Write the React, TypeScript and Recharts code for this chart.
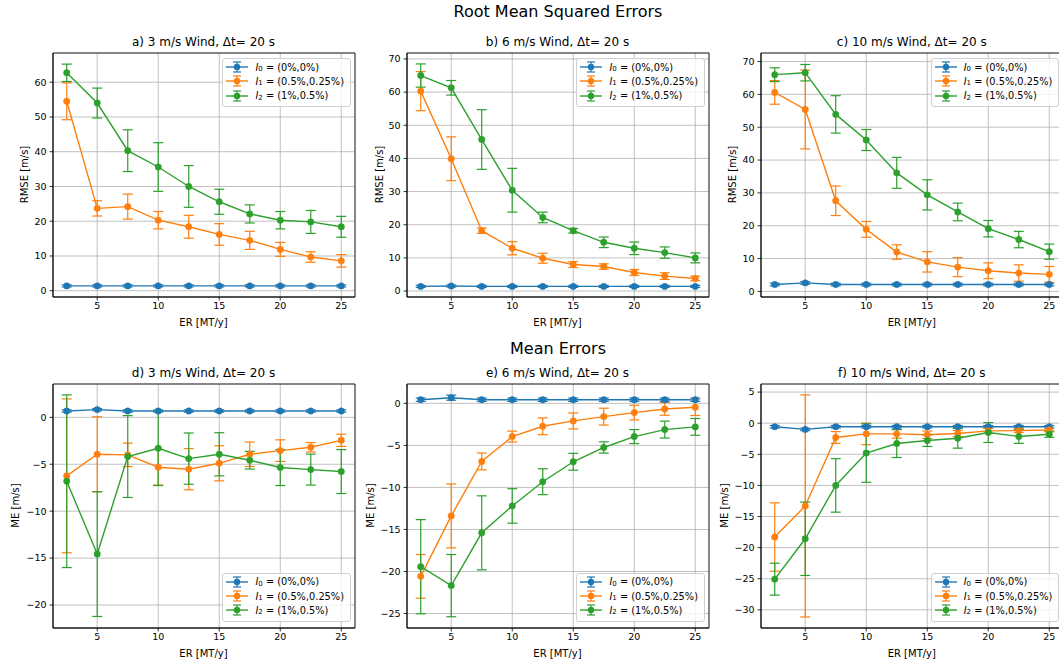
import { LineChart, Line, XAxis, YAxis, CartesianGrid, ErrorBar, ReferenceArea } from 'recharts';

const FONT = '"DejaVu Sans", sans-serif';
const BLUE = '#1f77b4';
const ORANGE = '#ff7f0e';
const GREEN = '#2ca02c';

// emission rate, shared x values
const er = [2.5, 5, 7.5, 10, 12.5, 15, 17.5, 20, 22.5, 25];
const xTicks = [5, 10, 15, 20, 25];
const xDomain = [1.375, 26.125];

// a) RMSE, 3 m/s
const aI0 = [1.4, 1.4, 1.4, 1.4, 1.4, 1.4, 1.4, 1.4, 1.4, 1.4];
const aI0Err = [0.3, 0.3, 0.3, 0.3, 0.3, 0.3, 0.3, 0.3, 0.3, 0.3];
const aI1 = [54.5, 23.7, 24.2, 20.3, 18.4, 16.2, 14.5, 11.9, 9.7, 8.6];
const aI1Err = [5.3, 2.2, 3.6, 2.5, 3.3, 3.1, 2.6, 2.0, 1.5, 1.8];
const aI2 = [62.7, 54.0, 40.3, 35.6, 30.0, 25.6, 22.1, 20.3, 19.8, 18.4];
const aI2Err = [2.5, 4.3, 6.0, 7.0, 6.0, 3.6, 2.6, 2.5, 3.3, 3.0];

// b) RMSE, 6 m/s
const bI0 = [1.4, 1.5, 1.4, 1.4, 1.4, 1.4, 1.4, 1.4, 1.4, 1.4];
const bI0Err = [0.3, 0.3, 0.3, 0.3, 0.3, 0.3, 0.3, 0.3, 0.3, 0.3];
const bI1 = [60.3, 39.9, 18.2, 12.9, 9.9, 8.0, 7.4, 5.6, 4.5, 3.8];
const bI1Err = [5.9, 6.6, 0.8, 2.0, 1.5, 0.9, 0.8, 0.9, 1.0, 0.7];
const bI2 = [65.0, 61.3, 45.7, 30.4, 22.2, 18.2, 14.7, 12.9, 11.6, 10.0];
const bI2Err = [3.5, 2.2, 9.0, 6.6, 1.6, 0.7, 1.6, 1.9, 1.7, 1.5];

// c) RMSE, 10 m/s
const cI0 = [2.1, 2.6, 2.1, 2.1, 2.1, 2.1, 2.1, 2.1, 2.1, 2.1];
const cI0Err = [0.4, 0.4, 0.4, 0.4, 0.4, 0.4, 0.4, 0.4, 0.4, 0.4];
const cI1 = [60.6, 55.4, 27.6, 18.9, 12.0, 9.0, 7.4, 6.3, 5.6, 5.2];
const cI1Err = [3.6, 12.0, 4.5, 2.4, 2.2, 3.1, 2.9, 2.4, 2.5, 2.4];
const cI2 = [66.0, 66.6, 53.9, 46.1, 36.1, 29.4, 24.2, 19.1, 15.8, 12.1];
const cI2Err = [2.1, 2.5, 5.7, 3.2, 4.7, 4.6, 2.7, 2.5, 2.5, 2.3];

// d) ME, 3 m/s
const dI0 = [0.67, 0.82, 0.67, 0.67, 0.67, 0.67, 0.67, 0.67, 0.67, 0.67];
const dI0Err = [0.12, 0.12, 0.12, 0.12, 0.12, 0.12, 0.12, 0.12, 0.12, 0.12];
const dI1 = [-6.24, -3.94, -4.0, -5.32, -5.53, -4.9, -3.94, -3.55, -3.19, -2.45];
const dI1Err = [8.2, 4.0, 1.25, 1.9, 2.2, 1.87, 1.3, 1.15, 0.5, 0.65];
const dI2 = [-6.81, -14.57, -4.18, -3.3, -4.4, -3.94, -4.57, -5.35, -5.57, -5.78];
const dI2Err = [9.2, 6.65, 4.36, 3.97, 2.73, 2.3, 0.94, 1.92, 1.65, 2.34];

// e) ME, 6 m/s
const eI0 = [0.43, 0.67, 0.43, 0.43, 0.43, 0.43, 0.43, 0.43, 0.43, 0.43];
const eI0Err = [0.2, 0.3, 0.2, 0.2, 0.2, 0.2, 0.2, 0.2, 0.2, 0.2];
const eI1 = [-20.58, -13.39, -6.91, -3.95, -2.73, -2.09, -1.58, -1.1, -0.67, -0.47];
const eI1Err = [2.6, 3.8, 1.0, 0.65, 1.0, 0.95, 1.0, 0.87, 0.75, 0.98];
const eI2 = [-19.43, -21.68, -15.4, -12.2, -9.32, -6.95, -5.25, -3.95, -3.12, -2.8];
const eI2Err = [5.6, 3.7, 4.4, 2.05, 1.54, 1.0, 0.67, 0.83, 1.0, 1.0];

// f) ME, 10 m/s
const fI0 = [-0.57, -1.0, -0.57, -0.57, -0.57, -0.57, -0.57, -0.57, -0.57, -0.57];
const fI0Err = [0.2, 0.2, 0.2, 0.2, 0.2, 0.2, 0.2, 0.2, 0.2, 0.2];
const fI1 = [-18.3, -13.3, -2.3, -1.72, -1.72, -1.86, -1.66, -1.23, -1.2, -1.1];
const fI1Err = [5.5, 17.85, 0.95, 1.73, 0.7, 0.6, 0.5, 0.4, 0.3, 0.3];
const fI2 = [-25.07, -18.58, -10.0, -4.8, -3.27, -2.79, -2.41, -1.5, -2.14, -1.77];
const fI2Err = [2.57, 5.9, 4.3, 4.7, 2.25, 0.95, 1.6, 1.6, 1.1, 0.5];

const legendLabels = [
  { sub: '0', text: '\u00a0= (0%,0%)', color: BLUE },
  { sub: '1', text: '\u00a0= (0.5%,0.25%)', color: ORANGE },
  { sub: '2', text: '\u00a0= (1%,0.5%)', color: GREEN },
];

const PLOT_W = 302;
const PLOT_H = 244;
const Y_W = 40;

const fmt = (v: number) => (v < 0 ? `\u2212${Math.abs(v)}` : `${v}`);

function buildRows(series: number[][]) {
  return er.map((x, i) => ({
    x,
    i0: series[0][i], i0e: series[1][i],
    i1: series[2][i], i1e: series[3][i],
    i2: series[4][i], i2e: series[5][i],
  }));
}

function LegendBox({ bottom }: { bottom: boolean }) {
  const pos: React.CSSProperties = bottom ? { bottom: 6.5 } : { top: 5 };
  return (
    <div style={{
      position: 'absolute', right: 3.5, ...pos,
      border: '1px solid #d0d0d0', borderRadius: 3, background: 'rgba(255,255,255,0.8)',
      padding: '1px 6px 3px 3px', fontFamily: FONT, fontSize: 9.8, color: '#000',
    }}>
      {legendLabels.map((l) => (
        <div key={l.sub} style={{ display: 'flex', alignItems: 'center', height: 14.3, whiteSpace: 'pre' }}>
          <svg width={22} height={12} style={{ marginRight: 7 }}>
            <line x1={0} y1={6} x2={22} y2={6} stroke={l.color} strokeWidth={1.4} />
            <line x1={11} y1={1} x2={11} y2={11} stroke={l.color} strokeWidth={1.2} />
            <line x1={7} y1={1} x2={15} y2={1} stroke={l.color} strokeWidth={1.2} />
            <line x1={7} y1={11} x2={15} y2={11} stroke={l.color} strokeWidth={1.2} />
            <circle cx={11} cy={6} r={3.2} fill={l.color} />
          </svg>
          <span style={{ fontStyle: 'italic' }}>I</span>
          <span style={{ fontSize: 7, position: 'relative', top: 2 }}>{l.sub}</span>
          <span>{l.text}</span>
        </div>
      ))}
    </div>
  );
}

interface PanelProps {
  title: string;
  ylabel: string;
  left: number;
  top: number;
  domain: number[];
  ticks: number[];
  series: number[][];
  legendBottom: boolean;
  ylabelX: number;
}

function Panel({ title, ylabel, left, top, domain, ticks, series, legendBottom, ylabelX }: PanelProps) {
  const data = buildRows(series);
  const lines = [
    { key: 'i0', err: 'i0e', color: BLUE },
    { key: 'i1', err: 'i1e', color: ORANGE },
    { key: 'i2', err: 'i2e', color: GREEN },
  ];
  return (
    <>
      <div style={{
        position: 'absolute', left, top: top - 18, width: PLOT_W, textAlign: 'center',
        fontFamily: FONT, fontSize: 12, whiteSpace: 'nowrap',
      }}>{title}</div>
      <div style={{
        position: 'absolute', left: ylabelX - 60, top: top + PLOT_H / 2 - 6, width: 120, textAlign: 'center',
        fontFamily: FONT, fontSize: 10, transform: 'rotate(-90deg)',
      }}>{ylabel}</div>
      <div style={{
        position: 'absolute', left, top: top + PLOT_H + 20, width: PLOT_W, textAlign: 'center',
        fontFamily: FONT, fontSize: 10,
      }}>ER [MT/y]</div>
      <div style={{ position: 'absolute', left: left - Y_W, top: top - 1 }}>
        <LineChart width={PLOT_W + Y_W + 2} height={PLOT_H + 24} data={data}
          margin={{ top: 1, right: 2, bottom: 0, left: 0 }}>
          <CartesianGrid stroke="#b0b0b0" strokeWidth={0.8} />
          <XAxis dataKey="x" type="number" domain={xDomain} ticks={xTicks} allowDataOverflow
            height={23} tickSize={3.5} tickMargin={2}
            tick={{ fontFamily: FONT, fontSize: 9.5, fill: '#000' }}
            axisLine={{ stroke: '#000', strokeWidth: 0.8 }} tickLine={{ stroke: '#000', strokeWidth: 0.8 }} />
          <YAxis type="number" domain={domain} ticks={ticks} allowDataOverflow width={Y_W}
            tickSize={3.5} tickMargin={3} tickFormatter={fmt}
            tick={{ fontFamily: FONT, fontSize: 9.5, fill: '#000' }}
            axisLine={{ stroke: '#000', strokeWidth: 0.8 }} tickLine={{ stroke: '#000', strokeWidth: 0.8 }} />
          {lines.map((l) => (
            <Line key={l.key} dataKey={l.key} type="linear" stroke={l.color} strokeWidth={1.4}
              dot={{ r: 3.2, fill: l.color, stroke: l.color, strokeWidth: 0.5 }} activeDot={false}
              isAnimationActive={false}>
              <ErrorBar dataKey={l.err} width={5} stroke={l.color} strokeWidth={1.2} direction="y" />
            </Line>
          ))}
          <ReferenceArea x1={xDomain[0]} x2={xDomain[1]} y1={domain[0]} y2={domain[1]}
            fill="none" stroke="#000" strokeWidth={0.8} ifOverflow="visible" />
        </LineChart>
      </div>
      <div style={{ position: 'absolute', left, top, width: PLOT_W, height: PLOT_H, pointerEvents: 'none' }}>
        <LegendBox bottom={legendBottom} />
      </div>
    </>
  );
}

const colLeft = [52.5, 406.5, 760.8];
const yLabelTop = [24, 379, 732];
const yLabelBottom = [15, 370, 724];
const rowTop = [53, 384];

export default function App() {
  return (
    <div style={{ position: 'absolute', left: 0, top: 0, width: 1059, height: 664, overflow: 'hidden', background: '#fff' }}>
      <div style={{ position: 'absolute', left: 358, top: 2, width: 400, textAlign: 'center', fontFamily: FONT, fontSize: 16 }}>
        Root Mean Squared Errors
      </div>
      <div style={{ position: 'absolute', left: 358, top: 339, width: 400, textAlign: 'center', fontFamily: FONT, fontSize: 16 }}>
        Mean Errors
      </div>
      <Panel title="a) 3 m/s Wind, Δt= 20 s" ylabel="RMSE [m/s]" left={colLeft[0]} top={rowTop[0]}
        domain={[-1.8, 68.4]} ticks={[0, 10, 20, 30, 40, 50, 60]}
        series={[aI0, aI0Err, aI1, aI1Err, aI2, aI2Err]} legendBottom={false} ylabelX={yLabelTop[0]} />
      <Panel title="b) 6 m/s Wind, Δt= 20 s" ylabel="RMSE [m/s]" left={colLeft[1]} top={rowTop[0]}
        domain={[-1.8, 71.8]} ticks={[0, 10, 20, 30, 40, 50, 60, 70]}
        series={[bI0, bI0Err, bI1, bI1Err, bI2, bI2Err]} legendBottom={false} ylabelX={yLabelTop[1]} />
      <Panel title="c) 10 m/s Wind, Δt= 20 s" ylabel="RMSE [m/s]" left={colLeft[2]} top={rowTop[0]}
        domain={[-1.7, 72.6]} ticks={[0, 10, 20, 30, 40, 50, 60, 70]}
        series={[cI0, cI0Err, cI1, cI1Err, cI2, cI2Err]} legendBottom={false} ylabelX={yLabelTop[2]} />
      <Panel title="d) 3 m/s Wind, Δt= 20 s" ylabel="ME [m/s]" left={colLeft[0]} top={rowTop[1]}
        domain={[-22.45, 3.55]} ticks={[-20, -15, -10, -5, 0]}
        series={[dI0, dI0Err, dI1, dI1Err, dI2, dI2Err]} legendBottom ylabelX={yLabelBottom[0]} />
      <Panel title="e) 6 m/s Wind, Δt= 20 s" ylabel="ME [m/s]" left={colLeft[1]} top={rowTop[1]}
        domain={[-26.72, 2.3]} ticks={[-25, -20, -15, -10, -5, 0]}
        series={[eI0, eI0Err, eI1, eI1Err, eI2, eI2Err]} legendBottom ylabelX={yLabelBottom[1]} />
      <Panel title="f) 10 m/s Wind, Δt= 20 s" ylabel="ME [m/s]" left={colLeft[2]} top={rowTop[1]}
        domain={[-32.92, 6.3]} ticks={[-30, -25, -20, -15, -10, -5, 0, 5]}
        series={[fI0, fI0Err, fI1, fI1Err, fI2, fI2Err]} legendBottom ylabelX={yLabelBottom[2]} />
    </div>
  );
}
